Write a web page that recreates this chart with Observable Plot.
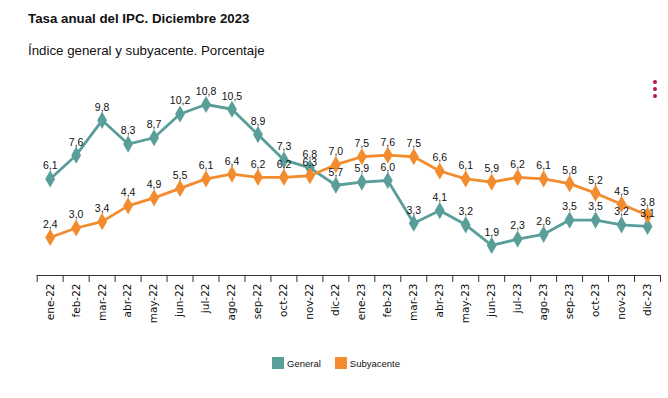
<!DOCTYPE html>
<html><head><meta charset="utf-8">
<script src="https://cdn.jsdelivr.net/npm/d3@7"></script>
<script src="https://cdn.jsdelivr.net/npm/@observablehq/plot@0.6"></script>
<style>
body{margin:0;background:#fff;width:668px;height:398px;position:relative;overflow:hidden;font-family:"Liberation Sans",Arial,sans-serif;color:#111;}
#title{position:absolute;left:28px;top:11px;font-size:13.3px;font-weight:bold;white-space:nowrap;}
#subtitle{position:absolute;left:28px;top:43px;font-size:13.3px;white-space:nowrap;}
#chart{position:absolute;left:0;top:62px;}
#legend{position:absolute;top:357px;left:272px;font-size:9.5px;display:flex;align-items:center;}
.item{display:flex;align-items:center;margin-right:14px;}
.sw{width:12px;height:12px;margin-right:3px;}
#menu{position:absolute;left:653px;top:80px;}
#menu div{width:4px;height:4px;border-radius:2px;background:#b3164c;margin-bottom:3px;}
</style>
</head><body>
<div id="title">Tasa anual del IPC. Diciembre 2023</div>
<div id="subtitle">Índice general y subyacente. Porcentaje</div>
<div id="chart"></div>
<div id="legend"></div>
<div id="menu"><div></div><div></div><div></div></div>
<script>
const months = ["ene-22","feb-22","mar-22","abr-22","may-22","jun-22","jul-22","ago-22","sep-22","oct-22","nov-22","dic-22",
                "ene-23","feb-23","mar-23","abr-23","may-23","jun-23","jul-23","ago-23","sep-23","oct-23","nov-23","dic-23"];
const general = [6.1,7.6,9.8,8.3,8.7,10.2,10.8,10.5,8.9,7.3,6.8,5.7,5.9,6.0,3.3,4.1,3.2,1.9,2.3,2.6,3.5,3.5,3.2,3.1];
const subyacente = [2.4,3.0,3.4,4.4,4.9,5.5,6.1,6.4,6.2,6.2,6.3,7.0,7.5,7.6,7.5,6.6,6.1,5.9,6.2,6.1,5.8,5.2,4.5,3.8];
const seriesNames = ["General","Subyacente"];
const seriesColors = ["#5a9e9a","#f28c2e"];

const seriesValues = [general, subyacente];
const data = seriesNames.flatMap((s, k) => seriesValues[k].map((v, i) => ({series: s, i, month: months[i], value: v})));
const fmt = v => d3.format(".1f")(v).replace(".", ",");

const chart = Plot.plot({
  width: 668,
  height: 280,
  marginLeft: 36.7,
  marginRight: 8,
  marginTop: 23,
  marginBottom: 67,
  x: {type: "linear", domain: [-0.5, months.length - 0.5], label: null},
  y: {domain: [0, 12], axis: null},
  color: {domain: seriesNames, range: seriesColors},
  style: {background: "transparent"},
  marks: [
    Plot.ruleY([0], {stroke: "#333", strokeWidth: 1}),
    Plot.axisX(d3.range(months.length + 1).map(i => i - 0.5), {tickSize: 7, tickFormat: () => "", stroke: "#333", label: null}),
    Plot.axisX(d3.range(months.length), {tickSize: 0, tickPadding: 8, tickRotate: -90, tickFormat: i => months[i],
      fontSize: 10.5, fontFamily: "DejaVu Sans", fill: "#111", label: null}),
    Plot.line(data, {x: "i", y: "value", z: "series", stroke: "series", strokeWidth: 2.8}),
    Plot.dot(data, {x: "i", y: "value", fill: "series", symbol: "diamond", r: 5.2}),
    Plot.text(data, {x: "i", y: "value", text: d => fmt(d.value), dy: -13, fontSize: 10.5,
      fontFamily: "Liberation Sans, Arial, sans-serif", fill: "#111"})
  ]
});
document.getElementById("chart").appendChild(chart);

const legend = document.getElementById("legend");
seriesNames.forEach((s, k) => {
  const it = document.createElement("div");
  it.className = "item";
  const sw = document.createElement("div");
  sw.className = "sw";
  sw.style.background = seriesColors[k];
  const t = document.createElement("span");
  t.textContent = s;
  it.appendChild(sw); it.appendChild(t);
  legend.appendChild(it);
});
</script>
</body></html>
